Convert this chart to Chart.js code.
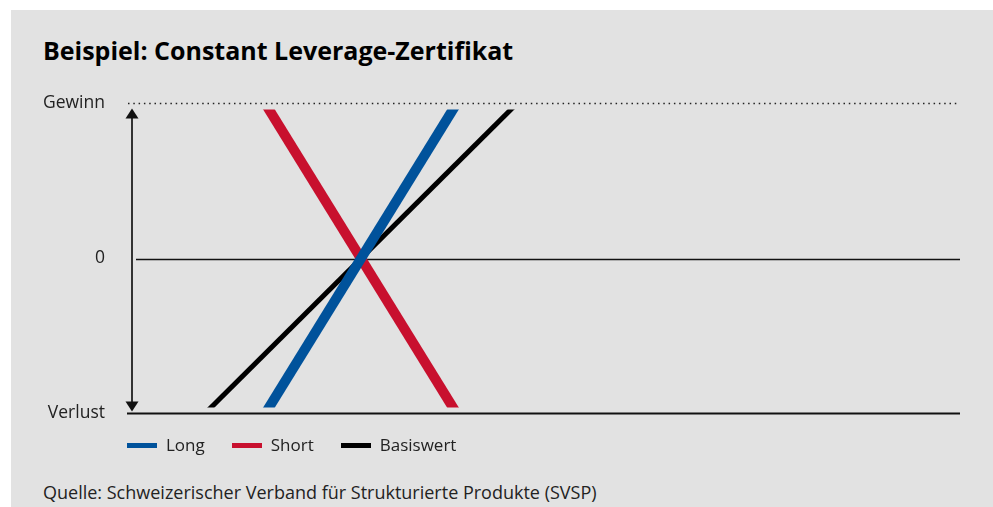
<!DOCTYPE html>
<html>
<head>
<meta charset="utf-8">
<script src="https://cdn.jsdelivr.net/npm/chart.js@4.4.1/dist/chart.umd.min.js"></script>
<style>
  body { margin: 0; background: #fff; font-family: "Open Sans", sans-serif; }
  #panel { position: absolute; left: 11px; top: 10px; width: 982px; height: 497px; background: #e2e2e2; }
  #title { position: absolute; left: 43px; top: 34px; margin: 0; font-size: 25px; line-height: 32px; font-weight: bold; color: #000; }
  #box { position: absolute; left: 11px; top: 70px; width: 982px; height: 377px; }
  #legend { position: absolute; left: 127px; top: 434px; height: 22px; display: flex; font-size: 17px; line-height: 22px; color: #222; }
  .item { display: flex; align-items: center; margin-right: 27px; }
  .swatch { width: 30px; height: 5px; margin-right: 9px; }
  #source { position: absolute; left: 43px; top: 481px; font-size: 18px; line-height: 22px; color: #222; }
</style>
</head>
<body>
<div id="panel"></div>
<h1 id="title">Beispiel: Constant Leverage-Zertifikat</h1>
<div id="box"><canvas id="chart"></canvas></div>
<div id="legend"></div>
<div id="source">Quelle: Schweizerischer Verband für Strukturierte Produkte (SVSP)</div>
<script>
// Werte (x = Kurs Basiswert, willkürliche Einheit 0..100; y = Verlust -1 .. Gewinn 1)
var seriesNames = ['Long', 'Short', 'Basiswert'];
var seriesColors = ['#00529b', '#c8102e', '#000000'];
var longX = [16.5, 39.5];
var longY = [-1, 1];
var shortX = [16.5, 39.5];
var shortY = [1, -1];
var basisX = [9.25, 46.75];
var basisY = [-1, 1];
var yTickValues = [-1, 0, 1];
var yTickLabels = ['Verlust', '0', 'Gewinn'];

function toPoints(xs, ys) {
    var pts = [];
    for (var i = 0; i < xs.length; i++) {
        pts.push({ x: xs[i], y: ys[i] });
    }
    return pts;
}

// legend
var legendEl = document.getElementById('legend');
for (var i = 0; i < seriesNames.length; i++) {
    var item = document.createElement('div');
    item.className = 'item';
    item.innerHTML = '<span class="swatch" style="background:' + seriesColors[i] + '"></span>' + seriesNames[i];
    legendEl.appendChild(item);
}

// Gewinn/0/Verlust lines + arrow, drawn under the datasets
var guides = {
    id: 'guides',
    beforeDatasetsDraw: function (chart) {
        var ctx = chart.ctx;
        var area = chart.chartArea;
        var y = chart.scales.y;
        var top = y.getPixelForValue(1);
        var zero = y.getPixelForValue(0);
        var bottom = y.getPixelForValue(-1);
        ctx.save();

        // dotted Gewinn line
        ctx.strokeStyle = '#222';
        ctx.lineWidth = 1.5;
        ctx.setLineDash([1.5, 3.8]);
        ctx.beginPath();
        ctx.moveTo(area.left, top);
        ctx.lineTo(area.right, top);
        ctx.stroke();
        ctx.setLineDash([]);

        // zero line
        ctx.strokeStyle = '#111';
        ctx.lineWidth = 1.5;
        ctx.beginPath();
        ctx.moveTo(area.left + 8, zero + 1);
        ctx.lineTo(area.right, zero + 1);
        ctx.stroke();

        // Verlust line
        ctx.lineWidth = 2;
        ctx.beginPath();
        ctx.moveTo(area.left - 1, bottom);
        ctx.lineTo(area.right, bottom);
        ctx.stroke();

        // arrow
        var ax = area.left + 4;
        ctx.strokeStyle = '#333';
        ctx.fillStyle = '#111';
        ctx.lineWidth = 2;
        ctx.beginPath();
        ctx.moveTo(ax, top + 12);
        ctx.lineTo(ax, bottom - 10);
        ctx.stroke();
        ctx.beginPath();
        ctx.moveTo(ax, top + 5);
        ctx.lineTo(ax - 6.5, top + 15);
        ctx.lineTo(ax + 6.5, top + 15);
        ctx.closePath();
        ctx.fill();
        ctx.beginPath();
        ctx.moveTo(ax, bottom - 2);
        ctx.lineTo(ax - 6.5, bottom - 12);
        ctx.lineTo(ax + 6.5, bottom - 12);
        ctx.closePath();
        ctx.fill();
        ctx.restore();
    }
};

var lineClip = { left: false, right: false, top: -6, bottom: -6 };

var chart = new Chart(document.getElementById('chart').getContext('2d'), {
    type: 'line',
    data: {
        datasets: [{
            label: seriesNames[0],
            data: toPoints(longX, longY),
            borderColor: seriesColors[0],
            borderWidth: 10,
            clip: lineClip
        }, {
            label: seriesNames[1],
            data: toPoints(shortX, shortY),
            borderColor: seriesColors[1],
            borderWidth: 10,
            clip: lineClip
        }, {
            label: seriesNames[2],
            data: toPoints(basisX, basisY),
            borderColor: seriesColors[2],
            borderWidth: 5,
            clip: lineClip
        }]
    },
    options: {
        responsive: true,
        maintainAspectRatio: false,
        animation: false,
        events: [],
        layout: { padding: { top: 12, right: 33, bottom: 16, left: 0 } },
        elements: {
            point: { radius: 0 },
            line: { tension: 0, borderCapStyle: 'butt' }
        },
        plugins: {
            legend: { display: false },
            tooltip: { enabled: false }
        },
        scales: {
            x: { type: 'linear', min: 0, max: 100, display: false },
            y: {
                type: 'linear',
                min: -1,
                max: 1,
                border: { display: false },
                grid: { display: false, drawTicks: false },
                afterBuildTicks: function (scale) {
                    scale.ticks = yTickValues.map(function (v) { return { value: v }; });
                },
                afterFit: function (scale) { scale.width = 117; },
                ticks: {
                    padding: 23,
                    color: '#222',
                    font: { family: 'Open Sans', size: 17.5 },
                    callback: function (v) { return yTickLabels[yTickValues.indexOf(v)]; }
                }
            }
        }
    },
    plugins: [guides]
});
</script>
</body>
</html>
